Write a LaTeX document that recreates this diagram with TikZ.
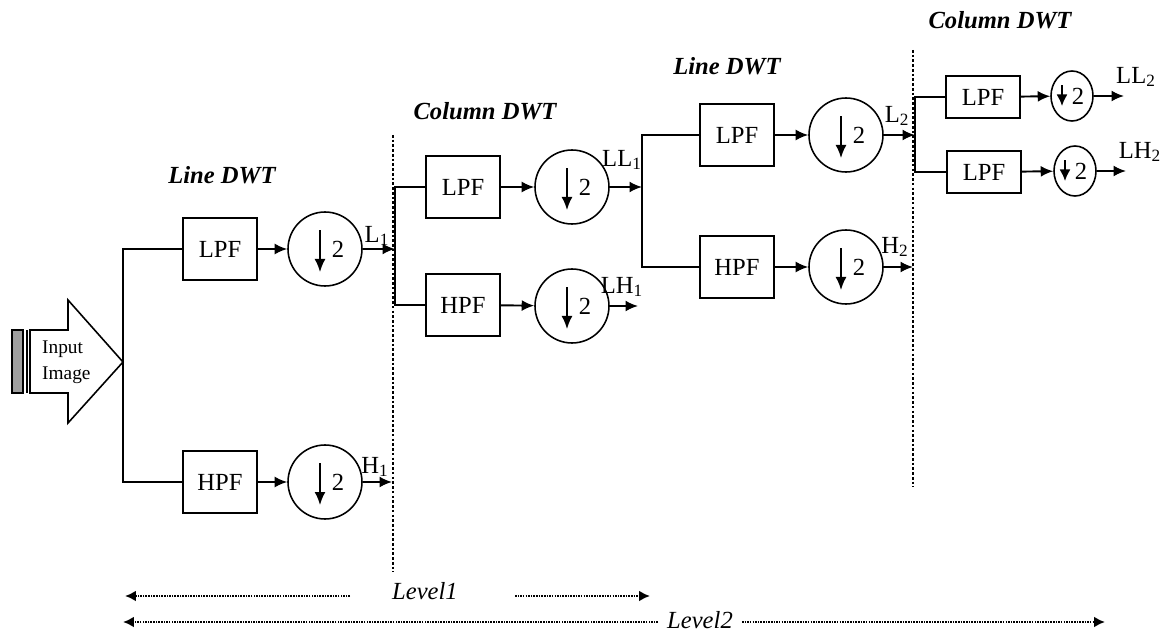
\documentclass[tikz,border=0pt]{standalone}
\usepackage{fontspec}
\setmainfont{Liberation Serif}
\usetikzlibrary{arrows.meta, positioning, shapes.geometric}
\tikzset{
  >=Latex,
  font=\fontsize{14}{16}\selectfont,
  filt/.style={
    draw, line width=0.9pt, minimum width=1.48cm, minimum height=1.24cm, inner sep=0pt
  },
  dsamp/.style={
    circle, draw, line width=0.9pt, minimum size=1.48cm, inner sep=0pt,
    path picture={\draw[-{Latex[length=2.6mm,width=2.2mm]}, line width=1pt]
      ([xshift=-0.1cm,yshift=0.38cm]path picture bounding box.center) -- ++(0,-0.84cm);}
  },
  dsmall/.style={
    ellipse, draw, line width=0.9pt, minimum width=0.84cm, minimum height=1cm, inner sep=0pt,
    path picture={\draw[-{Latex[length=2.3mm,width=2.2mm]}, line width=1pt]
      ([xshift=-0.2cm,yshift=0.22cm]path picture bounding box.center) -- ++(0,-0.42cm);}
  },
  arr/.style={-{Latex[length=2.5mm,width=2.2mm]}, line width=1.1pt},
  wire/.style={line width=1.1pt},
  sep/.style={dash pattern=on 1.5pt off 1.2pt, line width=1pt},
  lvl/.style={-{Latex[length=2.2mm,width=2.2mm]}, dash pattern=on 0.9pt off 0.6pt, line width=1.7pt},
  stage/.style={font=\fontsize{14}{16}\selectfont\bfseries\itshape},
  lvlab/.style={font=\fontsize{14}{16}\selectfont\itshape},
  sig/.style={inner sep=1pt}
}

\begin{document}
\begin{tikzpicture}[x=0.02cm, y=-0.02cm]
  \useasboundingbox (0,0) rectangle (1167,635);

  \draw[fill=gray!75, line width=0.8pt] (12,330) rectangle (23,393);
  \draw[line width=1.2pt] (27,330) -- (27,393);
  \draw[fill=white, line width=0.9pt] (30,330) -- (68,330) -- (68,300) -- (123,362) -- (68,423) -- (68,393) -- (30,393) -- cycle;
  \coordinate (src) at (123,362);
  \node[anchor=west, align=left, font=\fontsize{11}{15}\selectfont] (inp) at (36,362) {Input\\Image};

  \node[stage] (ld1) at (222,175) {Line DWT};
  \node[filt] (lpf1) at (220,249) {LPF};
  \node[filt] (hpf1) at (220,482) {HPF};
  \node[dsamp] (ds1) at (325,249) {\hspace*{0.52cm}2};
  \node[dsamp] (ds2) at (325,482) {\hspace*{0.52cm}2};
  \coordinate (l1) at (395,249);
  \coordinate (h1) at (392,482);
  \draw[wire] (lpf1.west) -| (src) |- (hpf1.west);
  \draw[arr] (lpf1) -- (ds1);
  \draw[arr] (hpf1) -- (ds2);
  \draw[arr] (ds1) -- (l1);
  \draw[arr] (ds2) -- (h1);
  \node[sig] (l1lab) at (377,236) {L\textsubscript{1}};
  \node[sig] (h1lab) at (375,467) {H\textsubscript{1}};
  \draw[sep] (393,135) -- (393,572);

  \node[stage] (cd1) at (485,111) {Column DWT};
  \node[filt] (lpf2) at (463,187) {LPF};
  \node[filt] (hpf2) at (463,305) {HPF};
  \node[dsamp] (ds3) at (572,187) {\hspace*{0.52cm}2};
  \node[dsamp] (ds4) at (572,306) {\hspace*{0.52cm}2};
  \coordinate (ll1) at (642,187);
  \coordinate (lh1) at (638,306);
  \draw[wire] (lpf2.west) -| (l1) |- (hpf2.west);
  \draw[arr] (lpf2) -- (ds3);
  \draw[arr] (hpf2) -- (ds4);
  \draw[arr] (ds3) -- (ll1);
  \draw[arr] (ds4) -- (lh1);
  \node[sig] (ll1lab) at (622,160) {LL\textsubscript{1}};
  \node[sig] (lh1lab) at (622,287) {LH\textsubscript{1}};

  \node[stage] (ld2) at (727,66) {Line DWT};
  \node[filt] (lpf3) at (737,135) {LPF};
  \node[filt] (hpf3) at (737,267) {HPF};
  \node[dsamp] (ds5) at (846,135) {\hspace*{0.52cm}2};
  \node[dsamp] (ds6) at (846,267) {\hspace*{0.52cm}2};
  \coordinate (l2) at (915,135);
  \coordinate (h2) at (913,267);
  \draw[wire] (lpf3.west) -| (ll1) |- (hpf3.west);
  \draw[arr] (lpf3) -- (ds5);
  \draw[arr] (hpf3) -- (ds6);
  \draw[arr] (ds5) -- (l2);
  \draw[arr] (ds6) -- (h2);
  \node[sig] (l2lab) at (897,116) {L\textsubscript{2}};
  \node[sig] (h2lab) at (895,247) {H\textsubscript{2}};
  \draw[sep] (913,50) -- (913,487);

  \node[stage] (cd2) at (1000,20) {Column DWT};
  \node[filt, minimum height=0.84cm] (lpf4) at (983,97) {LPF};
  \node[filt, minimum height=0.84cm] (lpf5) at (984,172) {LPF};
  \node[dsmall] (ds7) at (1072,96) {\hspace*{0.24cm}2};
  \node[dsmall] (ds8) at (1075,171) {\hspace*{0.24cm}2};
  \coordinate (ll2) at (1124,96);
  \coordinate (lh2) at (1126,171);
  \draw[wire] (lpf4.west) -| (l2) |- (lpf5.west);
  \draw[arr] (lpf4) -- (ds7);
  \draw[arr] (lpf5) -- (ds8);
  \draw[arr] (ds7) -- (ll2);
  \draw[arr] (ds8) -- (lh2);
  \node[sig] (ll2lab) at (1136,77) {LL\textsubscript{2}};
  \node[sig] (lh2lab) at (1140,152) {LH\textsubscript{2}};

  \node[lvlab] (lv1) at (425,591) {Level1};
  \node[lvlab] (lv2) at (700,620) {Level2};
  \coordinate (lv1a) at (350,596);
  \coordinate (lv1b) at (125,596);
  \coordinate (lv1c) at (515,596);
  \coordinate (lv1d) at (650,596);
  \coordinate (lv2a) at (658,622);
  \coordinate (lv2b) at (123,622);
  \coordinate (lv2c) at (742,622);
  \coordinate (lv2d) at (1105,622);
  \draw[lvl] (lv1a) -- (lv1b);
  \draw[lvl] (lv1c) -- (lv1d);
  \draw[lvl] (lv2a) -- (lv2b);
  \draw[lvl] (lv2c) -- (lv2d);
\end{tikzpicture}
\end{document}
